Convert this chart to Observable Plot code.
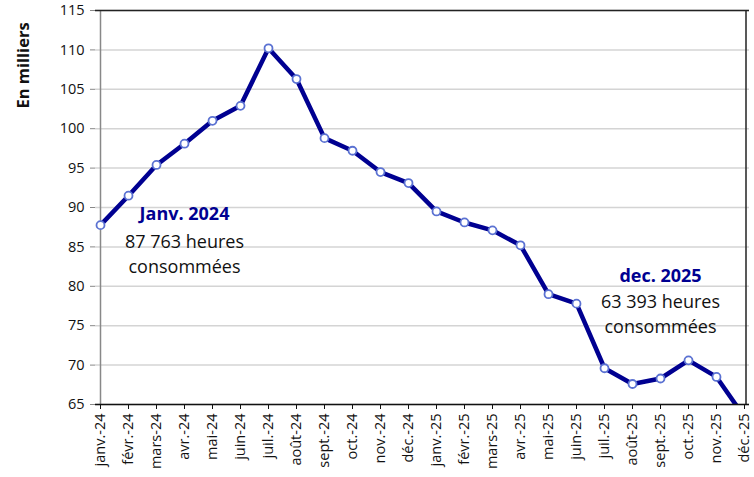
<!DOCTYPE html>
<html>
<head>
<meta charset="utf-8">
<script src="https://cdn.jsdelivr.net/npm/d3@7"></script>
<script src="https://cdn.jsdelivr.net/npm/@observablehq/plot@0.6"></script>
<style>
  body { margin: 0; background: #fff; }
  #chart svg { font-family: "Open Sans", sans-serif; }
</style>
</head>
<body>
<div id="chart"></div>
<script>
const months = ["janv.-24","févr.-24","mars-24","avr.-24","mai-24","juin-24","juil.-24","août-24","sept.-24","oct.-24","nov.-24","déc.-24",
                "janv.-25","févr.-25","mars-25","avr.-25","mai-25","juin-25","juil.-25","août-25","sept.-25","oct.-25","nov.-25","déc.-25"];
const heures = [87.763, 91.5, 95.4, 98.1, 101.0, 102.9, 110.2, 106.3, 98.8, 97.2, 94.5, 93.1,
                89.5, 88.1, 87.1, 85.2, 79.0, 77.8, 69.6, 67.6, 68.3, 70.6, 68.5, 63.393];
const yTicks = [65, 70, 75, 80, 85, 90, 95, 100, 105, 110, 115];
const annoTitles = [{x: "avr.-24", y: 89.1, t: "Janv. 2024"}, {x: "sept.-25", y: 81.3, t: "dec. 2025"}];
const annoBodies = [{x: "avr.-24", y: 85.6, t: "87 763 heures\nconsommées"}, {x: "sept.-25", y: 78.0, t: "63 393 heures\nconsommées"}];

const data = months.map((m, i) => ({m, v: heures[i]}));
const shown = data.filter(d => d.v >= 65);

const navy = "#000091";

const chart = Plot.plot({
  width: 754,
  height: 477,
  marginLeft: 95,
  marginRight: 5,
  marginTop: 10,
  marginBottom: 73,
  style: {fontFamily: "'Open Sans', sans-serif", color: "#111", background: "#fff"},
  x: {type: "point", domain: months, padding: 0},
  y: {domain: [65, 115]},
  marks: [
    Plot.gridY(yTicks, {stroke: "#d4d4d4", strokeOpacity: 1, strokeWidth: 1.5}),
    Plot.axisY(yTicks, {tickSize: 5, tickPadding: 6, fontSize: 14.5, label: null, stroke: "#888"}),
    Plot.axisX({tickRotate: -90, tickSize: 5, tickPadding: 4, fontSize: 14.5, label: null}),
    Plot.ruleX([months[0]], {stroke: "#888", strokeWidth: 1.5}),
    Plot.ruleY([115], {stroke: "#222", strokeWidth: 1.5}),
    Plot.ruleX([months[months.length - 1]], {stroke: "#222", strokeWidth: 1.5, dx: 1.5}),
    Plot.line(data, {x: "m", y: "v", stroke: navy, strokeWidth: 4.5, clip: true}),
    Plot.ruleY([65], {stroke: "#111", strokeWidth: 1.5}),
    Plot.dot(shown, {x: "m", y: "v", r: 4, fill: "#fff", stroke: "#5b72d2", strokeWidth: 1.8}),
    Plot.text(annoTitles, {x: "x", y: "y", text: "t", fill: navy, fontWeight: "bold", fontSize: 18}),
    Plot.text(annoBodies, {x: "x", y: "y", text: "t", fill: "#111", fontSize: 18, lineHeight: 1.35, lineAnchor: "top", dy: -11}),
    Plot.text(["En milliers"], {frameAnchor: "top-left", dx: -78, dy: 55, rotate: -90, textAnchor: "middle", fontWeight: "bold", fontSize: 16.5, fill: "#111", text: d => d})
  ]
});
document.getElementById("chart").appendChild(chart);
</script>
</body>
</html>
